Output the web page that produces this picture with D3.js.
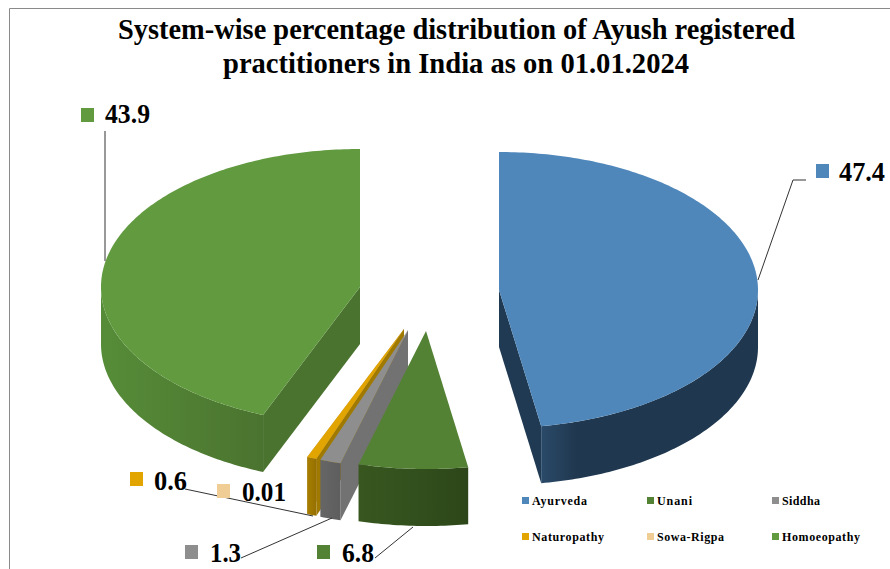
<!DOCTYPE html>
<html><head><meta charset="utf-8">
<script src="https://cdn.jsdelivr.net/npm/d3@7"></script>
<style>html,body{margin:0;padding:0;background:#fff}svg{display:block}text{font-family:"Liberation Serif",serif;font-weight:bold;fill:#000}</style>
</head><body><svg id="c" width="890" height="569"></svg>
<script>
const categories = ["Ayurveda","Unani","Siddha","Naturopathy","Sowa-Rigpa","Homoeopathy"];
const values = [47.4,6.8,1.3,0.6,0.01,43.9];
const valueLabels = ["47.4","6.8","1.3","0.6","0.01","43.9"];
const titleLines = ["System-wise percentage distribution of Ayush registered","practitioners in India as on 01.01.2024"];
const topColors = ["#4f87bb","#548235","#8e8e8e","#e2a500","#efcd94","#619a3f"];
const sideColors = ["#1f3a52","#2e4719","#727272","#a07a00","#c0a070","#4a732f"];
const wallStops = [
  [["0","#2a4a69"],["0.16","#20384f"],["1","#20384f"]],
  [["0","#38571f"],["0.5","#32501d"],["1","#2d4619"]],
  [["0","#666"],["1","#5e5e5e"]],
  [["0","#a87f00"],["1","#957000"]],
  [["0","#c0a070"],["1","#c0a070"]],
  [["0","#568c38"],["0.55","#507f33"],["1","#4a732f"]]
];
// layout: exploded apex of each wedge, label anchor and leader polyline
const apexX = [499,426,408,404,404,360], apexY = [290,331,330,329,329,287];
const labelBox = [[816,164,839,181],[317,545,342,562],[185,545,210,562],[130,472,154,490],[217,484,242,501],[81,108,105,123]];
const labelText = [46,32,31,33,44,45];
const leaders = [
  [[758,280],[793,180],[806,180]],
  [[413,527],[375,558]],
  [[332,518],[241,558]],
  [[313,516],[185,489]],
  null,
  [[105,261],[105,131]]
];
const legendX = [522,647,772], legendY = [497,533];
const legendW = [55,35,38,72,67,78];
const titleSpan = [[118,677,38.5],[223,466,73]];
const rx = 259, ry = 138, depth = 57;
const drawOrder = [5,0,4,3,2,1];

const svg = d3.select("#c");
const defs = svg.append("defs");
svg.append("path").attr("d","M9.5 569V8.5H890").attr("fill","none").attr("stroke","#8a8a8a").attr("stroke-width",1);

const pie = d3.pie().sort(null).value(d=>d)(values);
const HALF = Math.PI;
const lineGen = d3.line();

function pt(i,a,dz){ return [apexX[i]+rx*Math.sin(a), apexY[i]-ry*Math.cos(a)+dz]; }
function arcPts(i,a0,a1,dz){
  const n = Math.max(2,Math.ceil((a1-a0)*rx/4));
  return d3.range(n+1).map(k=>pt(i,a0+(a1-a0)*k/n,dz));
}
function cutFace(i,a){
  const c=[apexX[i],apexY[i]], p=pt(i,a,0);
  return lineGen([c,p,[p[0],p[1]+depth],[c[0],c[1]+depth]])+"Z";
}

drawOrder.forEach(i=>{
  const {startAngle:a0,endAngle:a1} = pie[i];
  const g = svg.append("g").attr("class","slice").attr("data-name",categories[i]);
  if(Math.sin(a1)>0.001) g.append("path").attr("d",cutFace(i,a1)).attr("fill",sideColors[i]);
  if(Math.sin(a0)<-0.001) g.append("path").attr("d",cutFace(i,a0)).attr("fill",sideColors[i]);
  const w0=Math.max(a0,HALF/2), w1=Math.min(a1,HALF*1.5);
  if(w1>w0){
    const id="wall"+i;
    const top=arcPts(i,w0,w1,0), bot=arcPts(i,w0,w1,depth).reverse();
    const xs=top.map(p=>p[0]);
    const gr=defs.append("linearGradient").attr("id",id).attr("gradientUnits","userSpaceOnUse")
      .attr("x1",d3.min(xs)).attr("x2",d3.max(xs)).attr("y1",0).attr("y2",0);
    wallStops[i].forEach(s=>gr.append("stop").attr("offset",s[0]).attr("stop-color",s[1]));
    g.append("path").attr("d",lineGen(top.concat(bot))+"Z").attr("fill",`url(#${id})`);
  }
  const c=[apexX[i],apexY[i]];
  g.append("path").attr("d",lineGen([c].concat(arcPts(i,a0,a1,0)))+"Z").attr("fill",topColors[i]);
});

leaders.forEach(l=>{ if(l) svg.append("path").attr("d",lineGen(l)).attr("fill","none").attr("stroke","#333").attr("stroke-width",1); });

valueLabels.forEach((t,i)=>{
  const b=labelBox[i];
  svg.append("rect").attr("x",b[0]).attr("y",b[1]).attr("width",13).attr("height",14).attr("fill",topColors[i]);
  svg.append("text").attr("x",b[2]).attr("y",b[3]).attr("font-size",27).attr("textLength",labelText[i]).attr("lengthAdjust","spacingAndGlyphs").text(t);
});

categories.forEach((t,i)=>{
  const x=legendX[i%3], y=legendY[Math.floor(i/3)];
  svg.append("rect").attr("x",x).attr("y",y).attr("width",7).attr("height",7).attr("fill",topColors[i]);
  svg.append("text").attr("x",x+10).attr("y",y+8).attr("font-size",12).attr("textLength",legendW[i]).attr("lengthAdjust","spacing").text(t);
});

titleLines.forEach((t,i)=>{
  const s=titleSpan[i];
  svg.append("text").attr("x",s[0]).attr("y",s[2]).attr("font-size",30).attr("textLength",s[1]).attr("lengthAdjust","spacingAndGlyphs").text(t);
});
</script></body></html>
